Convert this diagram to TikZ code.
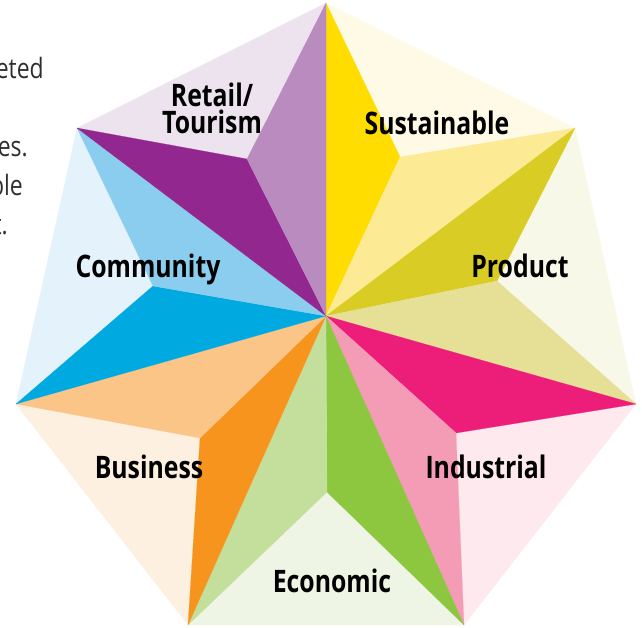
\documentclass[tikz,border=0pt]{standalone}
\usepackage{fontspec}
\setmainfont{Open Sans}
\newfontfamily\lblfont[FakeStretch=0.8]{Open Sans Bold}
\newfontfamily\bodyfont[FakeStretch=0.82]{Open Sans}
\definecolor{yellowB}{HTML}{FFDD00}
\definecolor{yellowL}{HTML}{FDEA94}
\definecolor{yellowP}{HTML}{FEFAE6}
\definecolor{oliveD}{HTML}{D8CC25}
\definecolor{khaki}{HTML}{E6E097}
\definecolor{oliveP}{HTML}{F7F8E7}
\definecolor{magentaD}{HTML}{ED1E7A}
\definecolor{pinkL}{HTML}{F49BB5}
\definecolor{pinkP}{HTML}{FDE9EE}
\definecolor{greenD}{HTML}{8DC63F}
\definecolor{greenL}{HTML}{C4DF9B}
\definecolor{greenP}{HTML}{EEF5E5}
\definecolor{orangeD}{HTML}{F7941E}
\definecolor{orangeL}{HTML}{FBC588}
\definecolor{orangeP}{HTML}{FEF0E1}
\definecolor{cyanD}{HTML}{00A9E0}
\definecolor{blueL}{HTML}{8ACDEE}
\definecolor{blueP}{HTML}{E4F2FB}
\definecolor{purpleD}{HTML}{92278F}
\definecolor{purpleL}{HTML}{BA8BBF}
\definecolor{purpleP}{HTML}{EDE3EF}
\definecolor{bodygray}{HTML}{2E2E2E}
\begin{document}
\begin{tikzpicture}[x=1pt,y=-1pt,
  lbl/.style={font=\lblfont\fontsize{31}{31}\selectfont, text=black, inner sep=0pt, anchor=base},
  body/.style={font=\bodyfont\fontsize{28}{28}\selectfont, text=bodygray, inner sep=0pt, anchor=base east},
  piece/.style={fill=#1, draw=#1, line width=0.2pt, line join=round}]
\useasboundingbox (0,0) rectangle (642,627);
% heptagon vertices
\coordinate (c) at (326,316);
\coordinate (v0) at (326,3);
\coordinate (v1) at (575,128);
\coordinate (v2) at (636,404);
\coordinate (v3) at (464,625);
\coordinate (v4) at (188,625);
\coordinate (v5) at (16,404);
\coordinate (v6) at (77,128);
% inner star points
\coordinate (p01) at (400,157);
\coordinate (p12) at (497,281);
\coordinate (p23) at (456,433);
\coordinate (p34) at (327,492);
\coordinate (p45) at (200,438);
\coordinate (p56) at (153,286);
\coordinate (p60) at (247,159);
% outer pale triangles
\path[piece=yellowP] (v0) -- (p01) -- (v1) -- cycle;
\path[piece=oliveP] (v1) -- (p12) -- (v2) -- cycle;
\path[piece=pinkP] (v2) -- (p23) -- (v3) -- cycle;
\path[piece=greenP] (v3) -- (p34) -- (v4) -- cycle;
\path[piece=orangeP] (v4) -- (p45) -- (v5) -- cycle;
\path[piece=blueP] (v5) -- (p56) -- (v6) -- cycle;
\path[piece=purpleP] (v6) -- (p60) -- (v0) -- cycle;
% star wedges
\path[piece=yellowB] (c) -- (v0) -- (p01) -- cycle;
\path[piece=yellowL] (c) -- (p01) -- (v1) -- cycle;
\path[piece=oliveD] (c) -- (v1) -- (p12) -- cycle;
\path[piece=khaki] (c) -- (p12) -- (v2) -- cycle;
\path[piece=magentaD] (c) -- (v2) -- (p23) -- cycle;
\path[piece=pinkL] (c) -- (p23) -- (v3) -- cycle;
\path[piece=greenD] (c) -- (v3) -- (p34) -- cycle;
\path[piece=greenL] (c) -- (p34) -- (v4) -- cycle;
\path[piece=orangeD] (c) -- (v4) -- (p45) -- cycle;
\path[piece=orangeL] (c) -- (p45) -- (v5) -- cycle;
\path[piece=cyanD] (c) -- (v5) -- (p56) -- cycle;
\path[piece=blueL] (c) -- (p56) -- (v6) -- cycle;
\path[piece=purpleD] (c) -- (v6) -- (p60) -- cycle;
\path[piece=purpleL] (c) -- (p60) -- (v0) -- cycle;
% labels
\node[lbl] (retail) at (212,106) {Retail/};
\node[lbl] (tourism) at (212,133) {Tourism};
\node[lbl] (sust) at (437,134) {Sustainable};
\node[lbl] (prod) at (520,277) {Product};
\node[lbl] (comm) at (148,277) {Community};
\node[lbl] (bus) at (149,478) {Business};
\node[lbl] (ind) at (486,478) {Industrial};
\node[lbl] (eco) at (332,592) {Economic};
% cut-off body text at left edge
\node[body] (t1) at (44,78) {eted};
\node[body] (t2) at (28,156) {es.};
\node[body] (t3) at (23,195) {ble};
\node[body] (t4) at (8,234) {t.};
\end{tikzpicture}
\end{document}
